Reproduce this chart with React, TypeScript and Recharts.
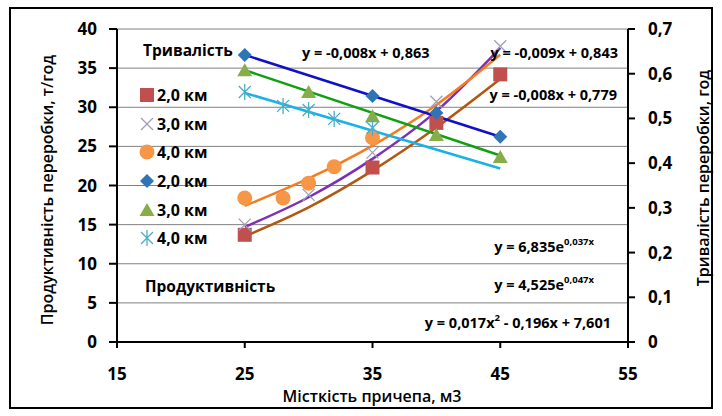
import React from 'react';
import { ComposedChart, Scatter, Line, XAxis, YAxis, CartesianGrid, Legend } from 'recharts';

// axes
const xTicks = [15, 25, 35, 45, 55];
const leftTicks = [0, 5, 10, 15, 20, 25, 30, 35, 40];
const rightTicks = [0, 0.1, 0.2, 0.3, 0.4, 0.5, 0.6, 0.7];

// productivity, t/h (left axis)
const prodX2 = [25, 35, 40, 45];
const prod2 = [13.7, 22.3, 28.0, 34.2];
const prodX3 = [25, 30, 35, 40, 45];
const prod3 = [15.0, 18.8, 24.2, 30.7, 37.8];
const prodX4 = [25, 28, 30, 32, 35];
const prod4 = [18.4, 18.4, 20.3, 22.4, 26.1];

// duration, h (right axis)
const durX2 = [25, 35, 40, 45];
const dur2 = [0.642, 0.55, 0.512, 0.459];
const durX3 = [25, 30, 35, 40, 45];
const dur3 = [0.608, 0.559, 0.505, 0.463, 0.414];
const durX4 = [25, 28, 30, 32, 35];
const dur4 = [0.559, 0.528, 0.519, 0.499, 0.479];

// trend lines
const trendX = [25, 30, 35, 40, 45];
const trendProd2 = [13.5, 17.2, 21.9, 27.4, 33.6];
const trendProd3 = [14.7, 18.5, 23.4, 29.5, 37.6];
const trendProd4 = [17.4, 20.9, 25.1, 30.3, 36.7];
const trendDurX = [25, 45];
const trendDur2 = [0.642, 0.459];
const trendDur3 = [0.608, 0.417];
const trendDur4 = [0.557, 0.388];

const legendLabels = ['2,0 км', '3,0 км', '4,0 км', '2,0 км', '3,0 км', '4,0 км'];
const markerColors = ['#c0504d', '#9d9dbd', '#f79646', '#2e75b6', '#86ad47', '#4bacc6'];

const pts = (xs: number[], ys: number[]) => xs.map((x, i) => ({ x, y: ys[i] }));

const FONT = '"Open Sans", sans-serif';

const marker = (kind: number, cx: number, cy: number) => {
  switch (kind) {
    case 0:
      return <rect x={cx - 7} y={cy - 7} width={14} height={14} fill={markerColors[0]} />;
    case 1:
      return (
        <path
          d={`M${cx - 6},${cy - 6}L${cx + 6},${cy + 6}M${cx - 6},${cy + 6}L${cx + 6},${cy - 6}`}
          stroke={markerColors[1]}
          strokeWidth={1.3}
          fill="none"
        />
      );
    case 2:
      return <circle cx={cx} cy={cy} r={7.5} fill={markerColors[2]} />;
    case 3:
      return <path d={`M${cx},${cy - 7}L${cx + 7},${cy}L${cx},${cy + 7}L${cx - 7},${cy}Z`} fill={markerColors[3]} />;
    case 4:
      return <path d={`M${cx},${cy - 7}L${cx + 7.5},${cy + 6}L${cx - 7.5},${cy + 6}Z`} fill={markerColors[4]} />;
    default:
      return (
        <path
          d={`M${cx - 6},${cy - 6}L${cx + 6},${cy + 6}M${cx - 6},${cy + 6}L${cx + 6},${cy - 6}M${cx},${cy - 8}L${cx},${cy + 8}`}
          stroke={markerColors[5]}
          strokeWidth={1.3}
          fill="none"
        />
      );
  }
};

const shapeOf = (kind: number) => (p: any) => <g>{marker(kind, p.cx, p.cy)}</g>;

const renderLegend = (props: any) => {
  const items = (props.payload || [])
    .filter((e: any) => e.type !== 'none' && markerColors.indexOf(e.color) >= 0)
    .sort((a: any, b: any) => markerColors.indexOf(a.color) - markerColors.indexOf(b.color));
  return (
    <div style={{ fontFamily: FONT, fontWeight: 700, fontSize: 16, color: '#000' }}>
      {items.map((e: any, i: number) => (
        <div key={i} style={{ display: 'flex', alignItems: 'center', height: 28.6 }}>
          <svg width={18} height={18} style={{ marginRight: 1 }}>
            {marker(markerColors.indexOf(e.color), 9, 9)}
          </svg>
          <span>{e.value}</span>
        </div>
      ))}
    </div>
  );
};

const tickStyle = { fill: '#000', fontSize: 17, fontWeight: 700, fontFamily: FONT };
const eqStyle: React.CSSProperties = { fontFamily: FONT, fontWeight: 700, fontSize: 14.5, fill: '#000' };

export default function App() {
  return (
    <div style={{ position: 'fixed', left: 0, top: 0, width: 722, height: 416, background: '#fff' }}>
      <ComposedChart width={722} height={416} margin={{ top: 29, right: 34, bottom: 24, left: 57 }}>
        <CartesianGrid yAxisId="l" vertical={false} stroke="#808080" strokeWidth={1} />
        <XAxis
          dataKey="x"
          type="number"
          domain={[15, 55]}
          ticks={xTicks}
          height={50}
          tickSize={6}
          tickMargin={20}
          stroke="#000"
          strokeWidth={2}
          tick={tickStyle}
        />
        <YAxis
          yAxisId="l"
          type="number"
          domain={[0, 40]}
          ticks={leftTicks}
          width={60}
          tickSize={8}
          tickMargin={12}
          stroke="#000"
          strokeWidth={2}
          tick={tickStyle}
        />
        <YAxis
          yAxisId="r"
          orientation="right"
          type="number"
          domain={[0, 0.7]}
          ticks={rightTicks}
          width={60}
          tickSize={7}
          tickMargin={13}
          stroke="#000"
          strokeWidth={2}
          tick={tickStyle}
          tickFormatter={(v: number) => String(v).replace('.', ',')}
        />
        <Legend
          layout="vertical"
          align="center"
          verticalAlign="middle"
          content={renderLegend}
          wrapperStyle={{ left: 138, top: 81, width: 110 }}
        />

        <Scatter name={legendLabels[0]} yAxisId="l" data={pts(prodX2, prod2)} dataKey="y" fill={markerColors[0]} shape={shapeOf(0)} isAnimationActive={false} />
        <Scatter name={legendLabels[1]} yAxisId="l" data={pts(prodX3, prod3)} dataKey="y" fill={markerColors[1]} shape={shapeOf(1)} isAnimationActive={false} />
        <Scatter name={legendLabels[2]} yAxisId="l" data={pts(prodX4, prod4)} dataKey="y" fill={markerColors[2]} shape={shapeOf(2)} isAnimationActive={false} />
        <Scatter name={legendLabels[3]} yAxisId="r" data={pts(durX2, dur2)} dataKey="y" fill={markerColors[3]} shape={shapeOf(3)} isAnimationActive={false} />
        <Scatter name={legendLabels[4]} yAxisId="r" data={pts(durX3, dur3)} dataKey="y" fill={markerColors[4]} shape={shapeOf(4)} isAnimationActive={false} />
        <Scatter name={legendLabels[5]} yAxisId="r" data={pts(durX4, dur4)} dataKey="y" fill={markerColors[5]} shape={shapeOf(5)} isAnimationActive={false} />

        <Line yAxisId="l" data={pts(trendX, trendProd2)} dataKey="y" type="monotone" stroke="#b3560f" strokeWidth={2.5} dot={false} activeDot={false} legendType="none" isAnimationActive={false} />
        <Line yAxisId="l" data={pts(trendX, trendProd3)} dataKey="y" type="monotone" stroke="#7d2fb5" strokeWidth={2.5} dot={false} activeDot={false} legendType="none" isAnimationActive={false} />
        <Line yAxisId="l" data={pts(trendX, trendProd4)} dataKey="y" type="monotone" stroke="#f57b1f" strokeWidth={2.5} dot={false} activeDot={false} legendType="none" isAnimationActive={false} />
        <Line yAxisId="r" data={pts(trendDurX, trendDur2)} dataKey="y" type="linear" stroke="#1010c8" strokeWidth={2.5} dot={false} activeDot={false} legendType="none" isAnimationActive={false} />
        <Line yAxisId="r" data={pts(trendDurX, trendDur3)} dataKey="y" type="linear" stroke="#12a012" strokeWidth={2.5} dot={false} activeDot={false} legendType="none" isAnimationActive={false} />
        <Line yAxisId="r" data={pts(trendDurX, trendDur4)} dataKey="y" type="linear" stroke="#1ab2e6" strokeWidth={2.5} dot={false} activeDot={false} legendType="none" isAnimationActive={false} />
      </ComposedChart>

      <svg width={722} height={416} style={{ position: 'absolute', left: 0, top: 0, pointerEvents: 'none' }}>
        <rect x={10} y={8} width={702} height={400} fill="none" stroke="#000" strokeWidth={2} />
        <text x={143} y={50} dominantBaseline="central" style={{ ...eqStyle, fontSize: 15.5 }}>Тривалість</text>
        <text x={145} y={286} dominantBaseline="central" style={{ ...eqStyle, fontSize: 15.5 }}>Продуктивність</text>
        <text x={302} y={52} dominantBaseline="central" style={eqStyle}>y = -0,008x + 0,863</text>
        <text x={618} y={52} dominantBaseline="central" textAnchor="end" style={eqStyle}>y = -0,009x + 0,843</text>
        <text x={617} y={94} dominantBaseline="central" textAnchor="end" style={eqStyle}>y = -0,008x + 0,779</text>
        <text x={594} y={246} dominantBaseline="central" textAnchor="end" style={eqStyle}>
          y = 6,835e<tspan dy={-5} fontSize={9.5}>0,037x</tspan>
        </text>
        <text x={594} y={284} dominantBaseline="central" textAnchor="end" style={eqStyle}>
          y = 4,525e<tspan dy={-5} fontSize={9.5}>0,047x</tspan>
        </text>
        <text x={611} y={322} dominantBaseline="central" textAnchor="end" style={eqStyle}>
          y = 0,017x<tspan dy={-5} fontSize={9.5}>2</tspan>
          <tspan dy={5}> - 0,196x + 7,601</tspan>
        </text>
        <text
          x={47}
          y={190}
          textAnchor="middle"
          dominantBaseline="central"
          transform="rotate(-90 47 190)"
          style={{ fontFamily: FONT, fontWeight: 600, fontSize: 16, fill: '#000' }}
        >
          Продуктивність переробки, т/год
        </text>
        <text
          x={703}
          y={178}
          textAnchor="middle"
          dominantBaseline="central"
          transform="rotate(-90 703 178)"
          style={{ fontFamily: FONT, fontWeight: 600, fontSize: 16, fill: '#000' }}
        >
          Тривалість переробки, год
        </text>
        <text
          x={372}
          y={396}
          textAnchor="middle"
          dominantBaseline="central"
          style={{ fontFamily: FONT, fontWeight: 600, fontSize: 16, fill: '#000' }}
        >
          Місткість причепа, м3
        </text>
      </svg>
    </div>
  );
}
